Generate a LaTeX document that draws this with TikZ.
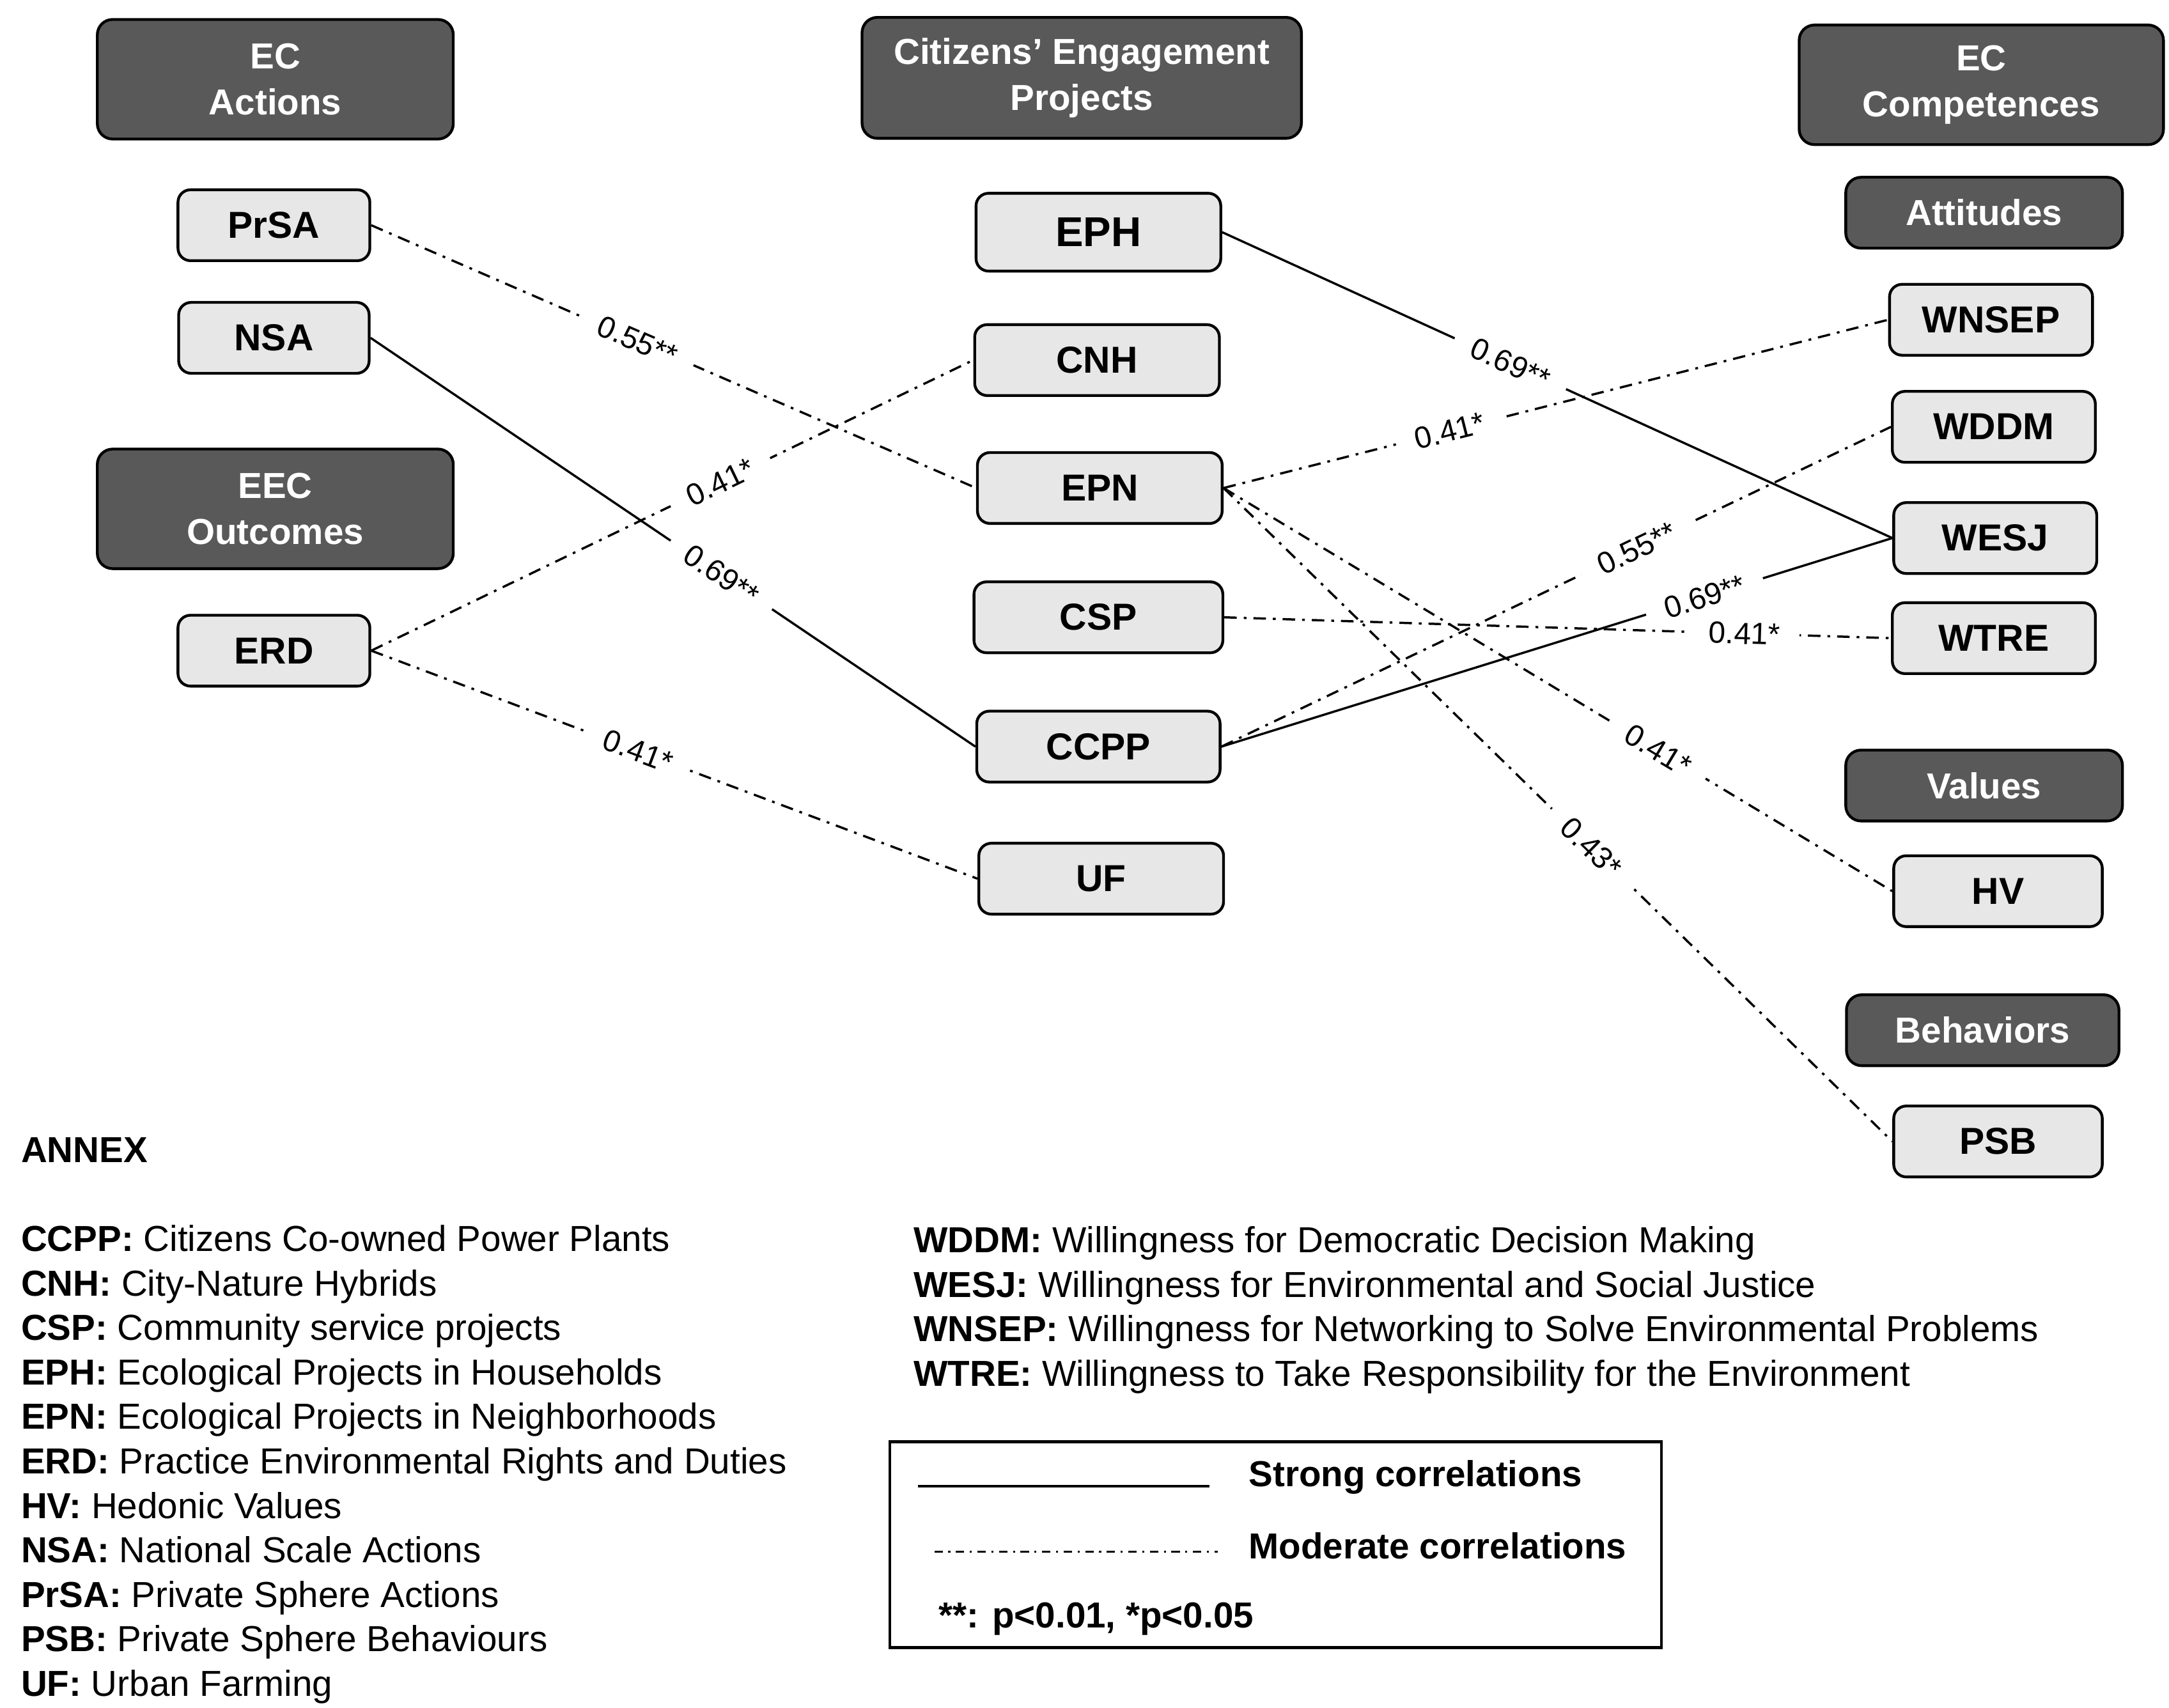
\documentclass[tikz,border=0pt]{standalone}
\usepackage{fontspec}
\setmainfont{Liberation Sans}
\definecolor{headgray}{RGB}{89,89,89}
\definecolor{boxgray}{RGB}{232,231,231}
\tikzset{
  head/.style={draw=black, line width=2pt, fill=headgray, rounded corners=11pt, text=white,
    font=\fontsize{26}{33}\selectfont\bfseries, align=center, inner sep=0pt},
  item/.style={draw=black, line width=2pt, fill=boxgray, rounded corners=9pt,
    font=\fontsize{27}{32}\selectfont\bfseries, minimum height=51pt, inner sep=0pt},
  strong/.style={line width=1.6pt},
  moderate/.style={line width=1.6pt, dash pattern=on 9pt off 5pt on 2pt off 5pt},
  coef/.style={sloped, fill=white, inner xsep=14pt, inner ysep=2pt, font=\fontsize{22}{24}\selectfont},
  annex/.style={anchor=west, inner sep=0pt, font=\fontsize{26}{30}\selectfont, text height=19pt, text depth=5pt},
  annexbf/.style={annex, font=\fontsize{26}{30}\selectfont\bfseries},
}
\begin{document}
\begin{tikzpicture}[x=1pt,y=-1pt]
      \fill[white] (0,0) rectangle (1560,1228.5);
      \useasboundingbox (0,0) rectangle (1560,1228.5);
      % Group headers
      \node[head, minimum width=256, minimum height=86] (ecact) at (198,57) {EC\\Actions};
      \node[head, minimum width=316, minimum height=87] (cep) at (778,56) {Citizens’ Engagement\\Projects};
      \node[head, minimum width=262, minimum height=86] (eccomp) at (1425,61) {EC\\Competences};
      \node[head, minimum width=256, minimum height=86] (eec) at (198,366) {EEC\\Outcomes};
      \node[head, minimum width=199, minimum height=51] (att) at (1427,153) {Attitudes};
      \node[head, minimum width=199, minimum height=51] (val) at (1427,565) {Values};
      \node[head, minimum width=196, minimum height=51] (beh) at (1426,741) {Behaviors};
      % Left column: actions and outcomes
      \node[item, minimum width=138] (prsa) at (197,162) {PrSA};
      \node[item, minimum width=137] (nsa) at (197,243) {NSA};
      \node[item, minimum width=138] (erd) at (197,468) {ERD};
      % Middle column: projects
      \node[item, minimum width=176, minimum height=56, font=\fontsize{30}{34}\selectfont\bfseries] (eph) at (790,167) {EPH};
      \node[item, minimum width=176] (cnh) at (789,259) {CNH};
      \node[item, minimum width=176] (epn) at (791,351) {EPN};
      \node[item, minimum width=179] (csp) at (790,444) {CSP};
      \node[item, minimum width=175] (ccpp) at (790,537) {CCPP};
      \node[item, minimum width=176] (uf) at (792,632) {UF};
      % Right column: competences
      \node[item, minimum width=146] (wnsep) at (1432,230) {WNSEP};
      \node[item, minimum width=146] (wddm) at (1434,307) {WDDM};
      \node[item, minimum width=146] (wesj) at (1435,387) {WESJ};
      \node[item, minimum width=146] (wtre) at (1434,459) {WTRE};
      \node[item, minimum width=150] (hv) at (1437,641) {HV};
      \node[item, minimum width=150] (psb) at (1437,821) {PSB};
      % Correlations, left to middle
      \draw[moderate] (prsa.east) -- node[coef, pos=0.44] {0.55**} (epn.west);
      \draw[strong] (nsa.east) -- node[coef, pos=0.58] {0.69**} (ccpp.west);
      \draw[moderate] (erd.east) -- node[coef, pos=0.58] {0.41*} (cnh.west);
      \draw[moderate] (erd.east) -- node[coef, pos=0.44] {0.41*} (uf.west);
      % Correlations, middle to right
      \draw[strong] (eph.east) -- node[coef, pos=0.43] {0.69**} (wesj.west);
      \draw[moderate] (epn.east) -- node[coef, pos=0.34] {0.41*} (wnsep.west);
      \draw[moderate] (ccpp.east) -- node[coef, pos=0.62] {0.55**} (wddm.west);
      \draw[strong] (ccpp.east) -- node[coef, pos=0.72] {0.69**} (wesj.west);
      \draw[moderate] (csp.east) -- node[coef, pos=0.78] {0.41*} (wtre.west);
      \draw[moderate] (epn.east) -- node[coef, pos=0.65] {0.41*} (hv.west);
      \draw[moderate] (epn.east) -- node[coef, pos=0.55] {0.43*} (psb.west);
      % Annex
      \node[annexbf] (annexhd) at (15,829) {ANNEX};
      \node[annex] (a1) at (15,893) {\textbf{CCPP:} Citizens Co-owned Power Plants};
      \node[annex] (a2) at (15,925) {\textbf{CNH:} City-Nature Hybrids};
      \node[annex] (a3) at (15,957) {\textbf{CSP:} Community service projects};
      \node[annex] (a4) at (15,989) {\textbf{EPH:} Ecological Projects in Households};
      \node[annex] (a5) at (15,1021) {\textbf{EPN:} Ecological Projects in Neighborhoods};
      \node[annex] (a6) at (15,1053) {\textbf{ERD:} Practice Environmental Rights and Duties};
      \node[annex] (a7) at (15,1085) {\textbf{HV:} Hedonic Values};
      \node[annex] (a8) at (15,1117) {\textbf{NSA:} National Scale Actions};
      \node[annex] (a9) at (15,1149) {\textbf{PrSA:} Private Sphere Actions};
      \node[annex] (a10) at (15,1181) {\textbf{PSB:} Private Sphere Behaviours};
      \node[annex] (a11) at (15,1213) {\textbf{UF:} Urban Farming};
      \node[annex] (b1) at (657,894) {\textbf{WDDM:} Willingness for Democratic Decision Making};
      \node[annex] (b2) at (657,926) {\textbf{WESJ:} Willingness for Environmental and Social Justice};
      \node[annex] (b3) at (657,958) {\textbf{WNSEP:} Willingness for Networking to Solve Environmental Problems};
      \node[annex] (b4) at (657,990) {\textbf{WTRE:} Willingness to Take Responsibility for the Environment};
      % Legend
      \node[draw=black, line width=2pt, minimum width=555, minimum height=148, inner sep=0pt] (legbox) at (917.5,1111) {};
      \coordinate (strA) at (660,1069);
      \coordinate (strB) at (870,1069);
      \draw[strong] (strA) -- (strB);
      \node[annexbf] (strtxt) at (898,1062) {Strong correlations};
      \coordinate (modA) at (672,1116);
      \coordinate (modB) at (876,1116);
      \draw[line width=1.4pt, dash pattern=on 6pt off 4pt on 1.5pt off 4pt] (modA) -- (modB);
      \node[annexbf] (modtxt) at (898,1114) {Moderate correlations};
      \node[annexbf] (sigtxt) at (675,1164) {**: p<0.01, *p<0.05};
\end{tikzpicture}
\end{document}
